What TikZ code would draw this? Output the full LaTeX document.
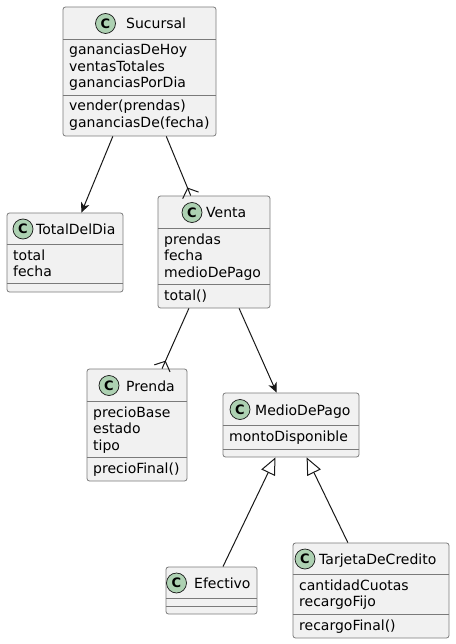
\documentclass[tikz,border=0pt]{standalone}
\usepackage{fontspec}
\setmainfont{DejaVu Sans}
\usetikzlibrary{calc,arrows.meta}
\definecolor{fondoClase}{HTML}{F1F1F1}
\definecolor{bordeClase}{HTML}{181818}
\definecolor{lineaClase}{HTML}{7A7A7A}
\definecolor{verdeC}{HTML}{ADD1B2}
\tikzstyle{clase}=[rectangle,draw=lineaClase,fill=fondoClase,line width=0.8pt,rounded corners=2.5pt,inner sep=0pt]
\tikzstyle{sep}=[draw=lineaClase,line width=0.8pt]
\tikzstyle{icono}=[circle,draw=bordeClase,fill=verdeC,line width=0.7pt,inner sep=0pt,minimum size=20pt,font=\fontsize{13pt}{13pt}\selectfont\bfseries]
\tikzstyle{nombre}=[anchor=base west,inner sep=0pt,font=\fontsize{14pt}{16.5pt}\selectfont]
\tikzstyle{miembro}=[anchor=base west,inner sep=0pt,font=\fontsize{14pt}{16.5pt}\selectfont]
\tikzstyle{conector}=[draw=bordeClase,line width=1pt]
\tikzstyle{flecha}=[conector,-{Stealth[length=10pt,width=9pt,inset=3pt]}]
\tikzstyle{hereda}=[conector,-{Triangle[open,length=17pt,width=15pt]}]

\begin{document}
\begin{tikzpicture}[x=1pt,y=-1pt]
		\useasboundingbox (0,0) rectangle (455,644);
		% cajas
		\node [clase,minimum width=153pt,minimum height=129pt] (sucursal) at (139.5,71.5) {};
		\node [clase,minimum width=116pt,minimum height=79pt] (total) at (65,252.5) {};
		\node [clase,minimum width=112pt,minimum height=112pt] (venta) at (214,252) {};
		\node [clase,minimum width=100pt,minimum height=112pt] (prenda) at (137,425) {};
		\node [clase,minimum width=136pt,minimum height=64pt] (medio) at (291,425) {};
		\node [clase,minimum width=91pt,minimum height=47pt] (efectivo) at (211.5,590.5) {};
		\node [clase,minimum width=156pt,minimum height=95pt] (tarjeta) at (371,590.5) {};

		% separadores
		\draw [sep] (sucursal.west |- 0,39) -- (sucursal.east |- 0,39);
		\draw [sep] (sucursal.west |- 0,95) -- (sucursal.east |- 0,95);
		\draw [sep] (total.west |- 0,244) -- (total.east |- 0,244);
		\draw [sep] (total.west |- 0,283) -- (total.east |- 0,283);
		\draw [sep] (venta.west |- 0,228) -- (venta.east |- 0,228);
		\draw [sep] (venta.west |- 0,284) -- (venta.east |- 0,284);
		\draw [sep] (prenda.west |- 0,401) -- (prenda.east |- 0,401);
		\draw [sep] (prenda.west |- 0,457) -- (prenda.east |- 0,457);
		\draw [sep] (medio.west |- 0,425) -- (medio.east |- 0,425);
		\draw [sep] (medio.west |- 0,449) -- (medio.east |- 0,449);
		\draw [sep] (efectivo.west |- 0,598) -- (efectivo.east |- 0,598);
		\draw [sep] (efectivo.west |- 0,606) -- (efectivo.east |- 0,606);
		\draw [sep] (tarjeta.west |- 0,574) -- (tarjeta.east |- 0,574);
		\draw [sep] (tarjeta.west |- 0,614) -- (tarjeta.east |- 0,614);

		% cabeceras
		\node [icono] (sucursalC) at (105.5,23.5) {C};
		\node [nombre] (sucursalN) at (126,29) {Sucursal};
		\node [icono] (totalC) at (23,229) {C};
		\node [nombre] (totalN) at (36,234.5) {TotalDelDia};
		\node [icono] (ventaC) at (192,212.5) {C};
		\node [nombre] (ventaN) at (206,218) {Venta};
		\node [icono] (prendaC) at (109,385.5) {C};
		\node [nombre] (prendaN) at (126,391) {Prenda};
		\node [icono] (medioC) at (240,409.5) {C};
		\node [nombre] (medioN) at (255,415) {MedioDePago};
		\node [icono] (efectivoC) at (176.5,583) {C};
		\node [nombre] (efectivoN) at (194,588.5) {Efectivo};
		\node [icono] (tarjetaC) at (305,559) {C};
		\node [nombre] (tarjetaN) at (319,564.5) {TarjetaDeCredito};

		% atributos y metodos
		\node [miembro] (sucA1) at (69,55) {gananciasDeHoy};
		\node [miembro] (sucA2) at (69,71.5) {ventasTotales};
		\node [miembro] (sucA3) at (69,88) {gananciasPorDia};
		\node [miembro] (sucM1) at (69,111) {vender(prendas)};
		\node [miembro] (sucM2) at (69,127.5) {gananciasDe(fecha)};
		\node [miembro] (totA1) at (13,260) {total};
		\node [miembro] (totA2) at (13,276.5) {fecha};
		\node [miembro] (venA1) at (164,244) {prendas};
		\node [miembro] (venA2) at (164,260.5) {fecha};
		\node [miembro] (venA3) at (164,277) {medioDePago};
		\node [miembro] (venM1) at (164,300) {total()};
		\node [miembro] (preA1) at (93,417) {precioBase};
		\node [miembro] (preA2) at (93,433.5) {estado};
		\node [miembro] (preA3) at (93,450) {tipo};
		\node [miembro] (preM1) at (93,473) {precioFinal()};
		\node [miembro] (medA1) at (229,441) {montoDisponible};
		\node [miembro] (tarA1) at (299,590) {cantidadCuotas};
		\node [miembro] (tarA2) at (299,606.5) {recargoFijo};
		\node [miembro] (tarM1) at (299,630) {recargoFinal()};

		% relaciones
		\draw [flecha] (sucursal) -- (total);
		\draw [conector] (sucursal) -- (venta) coordinate [pos=1] (svFin);
		\coordinate (svPunta) at ($ (svFin) ! 8pt ! (sucursal) $);
		\draw [conector] ($ (svPunta) ! 1.45 ! 48:(svFin) $) -- (svPunta) -- ($ (svPunta) ! 1.45 ! -48:(svFin) $);
		\draw [conector] (venta) -- (prenda) coordinate [pos=1] (vpFin);
		\coordinate (vpPunta) at ($ (vpFin) ! 8pt ! (venta) $);
		\draw [conector] ($ (vpPunta) ! 1.45 ! 48:(vpFin) $) -- (vpPunta) -- ($ (vpPunta) ! 1.45 ! -48:(vpFin) $);
		\draw [flecha] (venta) -- (medio);
		\draw [hereda] (efectivo) -- (medio);
		\draw [hereda] (tarjeta) -- (medio);
	\end{tikzpicture}
\end{document}
